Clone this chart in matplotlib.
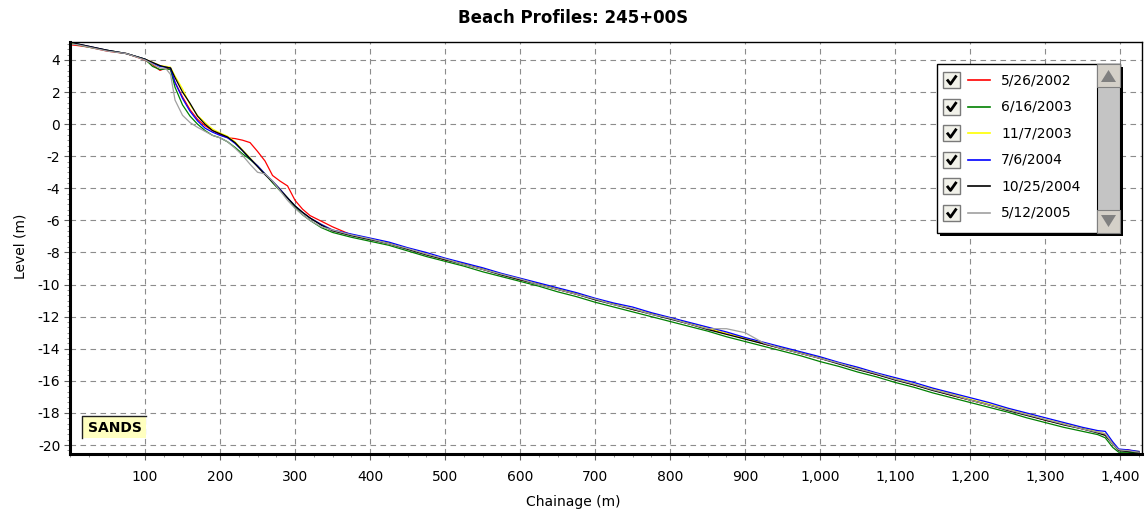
import matplotlib
matplotlib.use('Agg')
import matplotlib.pyplot as plt
from matplotlib.ticker import MultipleLocator, AutoMinorLocator, FuncFormatter
from matplotlib.patches import Rectangle, Polygon

plt.rcParams['font.family'] = ['DejaVu Sans']
plt.rcParams['axes.unicode_minus'] = False

# chainage (m) of the surveyed points
chainage = [
    0, 10, 25, 50, 75, 100, 110, 120, 128, 134,
    140, 150, 160, 170, 180, 190, 200, 210, 220, 230,
    240, 250, 260, 270, 280, 290, 300, 310, 320, 335,
    350, 375, 400, 425, 450, 475, 500, 525, 550, 575,
    600, 625, 650, 675, 700, 725, 750, 775, 800, 825,
    850, 875, 900, 925, 950, 975, 1000, 1025, 1050, 1075,
    1100, 1125, 1150, 1175, 1200, 1225, 1250, 1275, 1300, 1325,
    1350, 1370, 1380, 1390, 1398, 1410, 1425]

# levels (m) of each survey
level_20020526 = [
    4.95, 4.9, 4.8, 4.55, 4.4, 4.0, 3.7, 3.35, 3.5, 3.4,
    2.6, 1.7, 0.9, 0.3, -0.1, -0.4, -0.65, -0.85, -0.9, -1.0,
    -1.15, -1.7, -2.3, -3.2, -3.55, -3.85, -4.75, -5.3, -5.7, -6.05,
    -6.4, -6.9, -7.15, -7.45, -7.75, -8.1, -8.45, -8.7, -9.05, -9.35,
    -9.7, -9.95, -10.3, -10.6, -10.9, -11.2, -11.55, -11.8, -12.1, -12.45,
    -12.75, -13.05, -13.35, -13.7, -14.0, -14.3, -14.6, -14.9, -15.25, -15.6,
    -15.9, -16.25, -16.55, -16.9, -17.2, -17.5, -17.8, -18.1, -18.45, -18.7,
    -19.0, -19.2, -19.35, -19.9, -20.3, -20.3, -20.45]
level_20030616 = [
    5.05, 4.95, 4.8, 4.6, 4.4, 4.05, 3.6, 3.4, 3.45, 3.4,
    2.3, 1.2, 0.5, 0.0, -0.4, -0.7, -0.85, -1.1, -1.45, -1.85,
    -2.2, -2.6, -3.1, -3.65, -4.15, -4.6, -5.2, -5.65, -6.0, -6.45,
    -6.75, -7.05, -7.3, -7.55, -7.9, -8.25, -8.55, -8.85, -9.2, -9.5,
    -9.8, -10.1, -10.45, -10.75, -11.1, -11.4, -11.7, -12.0, -12.3, -12.6,
    -12.9, -13.25, -13.55, -13.85, -14.15, -14.45, -14.8, -15.1, -15.45, -15.75,
    -16.1, -16.4, -16.75, -17.05, -17.35, -17.65, -17.95, -18.3, -18.6, -18.9,
    -19.15, -19.35, -19.55, -20.15, -20.45, -20.45, -20.5]
level_20031107 = [
    5.1, 5.0, 4.85, 4.6, 4.4, 4.05, 3.85, 3.65, 3.6, 3.55,
    3.0, 2.2, 1.2, 0.55, 0.1, -0.3, -0.55, -0.75, -1.1, -1.6,
    -2.1, -2.6, -3.1, -3.55, -4.05, -4.6, -5.1, -5.5, -5.85, -6.25,
    -6.6, -6.9, -7.15, -7.4, -7.75, -8.1, -8.4, -8.7, -9.0, -9.35,
    -9.65, -9.95, -10.25, -10.55, -10.9, -11.2, -11.5, -11.8, -12.1, -12.4,
    -12.7, -13.05, -13.35, -13.65, -13.95, -14.25, -14.55, -14.9, -15.2, -15.55,
    -15.85, -16.2, -16.5, -16.8, -17.15, -17.45, -17.75, -18.05, -18.4, -18.65,
    -18.95, -19.15, -19.3, -19.9, -20.3, -20.35, -20.4]
level_20040706 = [
    5.15, 5.0, 4.85, 4.6, 4.4, 4.05, 3.8, 3.6, 3.55, 3.5,
    2.6, 1.6, 0.8, 0.2, -0.25, -0.5, -0.7, -0.85, -1.2, -1.65,
    -2.15, -2.6, -3.1, -3.55, -4.05, -4.6, -5.1, -5.5, -5.85, -6.25,
    -6.6, -6.85, -7.1, -7.35, -7.7, -8.0, -8.35, -8.65, -8.95, -9.3,
    -9.6, -9.9, -10.2, -10.5, -10.85, -11.15, -11.4, -11.75, -12.05, -12.35,
    -12.65, -12.95, -13.3, -13.6, -13.9, -14.2, -14.5, -14.85, -15.15, -15.5,
    -15.8, -16.1, -16.45, -16.75, -17.05, -17.35, -17.7, -18.0, -18.3, -18.6,
    -18.9, -19.1, -19.15, -19.8, -20.25, -20.3, -20.4]
level_20041025 = [
    5.15, 5.0, 4.85, 4.6, 4.4, 4.05, 3.85, 3.65, 3.55, 3.5,
    2.9, 2.0, 1.3, 0.5, 0.0, -0.4, -0.6, -0.8, -1.15, -1.65,
    -2.15, -2.65, -3.15, -3.6, -4.1, -4.6, -5.1, -5.5, -5.85, -6.3,
    -6.65, -6.95, -7.2, -7.45, -7.8, -8.15, -8.45, -8.75, -9.05, -9.4,
    -9.7, -10.0, -10.3, -10.6, -10.95, -11.25, -11.55, -11.85, -12.15, -12.45,
    -12.8, -13.1, -13.4, -13.7, -14.0, -14.3, -14.6, -14.95, -15.3, -15.6,
    -15.95, -16.25, -16.6, -16.9, -17.2, -17.5, -17.85, -18.15, -18.45, -18.75,
    -19.0, -19.25, -19.4, -19.95, -20.35, -20.4, -20.45]
level_20050512 = [
    5.0, 4.95, 4.8, 4.55, 4.4, 4.0, 3.75, 3.5, 3.45, 3.1,
    1.5, 0.55, 0.1, -0.2, -0.45, -0.7, -0.85, -1.1, -1.5, -1.95,
    -2.5, -3.0, -3.1, -3.55, -4.15, -4.75, -5.25, -5.65, -6.0, -6.4,
    -6.6, -6.9, -7.15, -7.45, -7.75, -8.1, -8.4, -8.75, -9.05, -9.35,
    -9.65, -10.0, -10.3, -10.6, -10.9, -11.25, -11.5, -11.85, -12.1, -12.45,
    -12.75, -12.75, -13.0, -13.65, -14.0, -14.3, -14.6, -14.9, -15.25, -15.55,
    -15.9, -16.2, -16.55, -16.85, -17.2, -17.5, -17.8, -18.1, -18.4, -18.7,
    -19.0, -19.2, -19.3, -19.95, -20.3, -20.35, -20.45]

survey_dates = ['5/26/2002', '6/16/2003', '11/7/2003', '7/6/2004',
                '10/25/2004', '5/12/2005']
survey_levels = [level_20020526, level_20030616, level_20031107,
                 level_20040706, level_20041025, level_20050512]
survey_colors = ['#ff0000', '#008000', '#ffff00', '#0000ff', '#000000',
                 '#a0a0a0']

x_ticks = list(range(100, 1401, 100))
y_ticks = list(range(-20, 5, 2))

W, H = 1146, 512
fig = plt.figure(figsize=(W / 100, H / 100), dpi=100)
ax = fig.add_axes([70 / W, 1 - 454 / H, (1142 - 70) / W, (454 - 42) / H])

for levels, color, date in zip(survey_levels, survey_colors, survey_dates):
    ax.plot(chainage, levels, color=color, lw=0.9, label=date)

ax.set_xlim(0, 1429)
ax.set_ylim(-20.56, 5.12)
ax.set_xticks(x_ticks)
ax.set_yticks(y_ticks)
ax.xaxis.set_major_formatter(FuncFormatter(lambda v, p: f'{v:,.0f}'))
ax.xaxis.set_minor_locator(MultipleLocator(25))
ax.yaxis.set_minor_locator(AutoMinorLocator(6))
ax.grid(True, which='major', color='#8c8c8c', lw=0.8,
        linestyle=(0, (5, 4)))
ax.tick_params(which='major', direction='out', length=4, width=0.8,
               color='#606060', labelsize=10, labelcolor='black')
ax.tick_params(which='minor', direction='out', length=2, width=0.7,
               color='#909090')
ax.tick_params(axis='x', which='major', pad=7.5)
ax.tick_params(axis='y', which='major', pad=3)
for side in ['left', 'bottom']:
    ax.spines[side].set_linewidth(2.2)
for side in ['top', 'right']:
    ax.spines[side].set_linewidth(1.0)

fig.text(0.5, 1 - 18 / H, 'Beach Profiles: 245+00S', ha='center',
         va='center', fontsize=12, fontweight='bold')
fig.text(0.5, 1 - 502 / H, 'Chainage (m)', ha='center', va='center',
         fontsize=10)
fig.text(20 / W, 1 - 246 / H, 'Level (m)', ha='center', va='center',
         rotation=90, fontsize=10)

# overlay in pixel units for the legend panel and the SANDS tag
ov = fig.add_axes([0, 0, 1, 1])
ov.set_zorder(5)
ov.set_xlim(0, W)
ov.set_ylim(H, 0)
ov.axis('off')

ov.add_patch(Rectangle((940, 67), 183, 169, facecolor='black'))
ov.add_patch(Rectangle((937, 64), 183, 169, facecolor='white',
                       edgecolor='black', lw=1))
ov.add_patch(Rectangle((1097, 64), 23, 169, facecolor='#c4c4c4',
                       edgecolor='black', lw=0.8))
ov.add_patch(Rectangle((1097, 64), 23, 23, facecolor='#d4d0c8',
                       edgecolor='#808080', lw=0.8))
ov.add_patch(Rectangle((1097, 210), 23, 23, facecolor='#d4d0c8',
                       edgecolor='#808080', lw=0.8))
ov.add_patch(Polygon([(1101, 82), (1116, 82), (1108.5, 70)],
                     facecolor='#808080'))
ov.add_patch(Polygon([(1101, 215), (1116, 215), (1108.5, 227)],
                     facecolor='#808080'))

for i, (color, date) in enumerate(zip(survey_colors, survey_dates)):
    cy = 80 + 26.6 * i
    ov.add_patch(Rectangle((943, cy - 8), 17, 16, facecolor='#f2f2ea',
                           edgecolor='#7a7a7a', lw=1))
    ov.plot([947, 950.5, 956.5], [cy - 0.5, cy + 4, cy - 4.5],
            color='black', lw=2, solid_capstyle='butt')
    ov.plot([968, 990], [cy, cy], color=color, lw=1.2)
    ov.text(1001, cy, date, ha='left', va='center', fontsize=10)

ov.add_patch(Rectangle((82, 416), 64, 22, facecolor='#ffffc0',
                       edgecolor='none'))
ov.plot([82, 82, 146], [438, 416, 416], color='#202020', lw=1)
ov.text(115, 428, 'SANDS', ha='center', va='center', fontsize=10,
        fontweight='bold')

fig.savefig('out.png', dpi=100)
